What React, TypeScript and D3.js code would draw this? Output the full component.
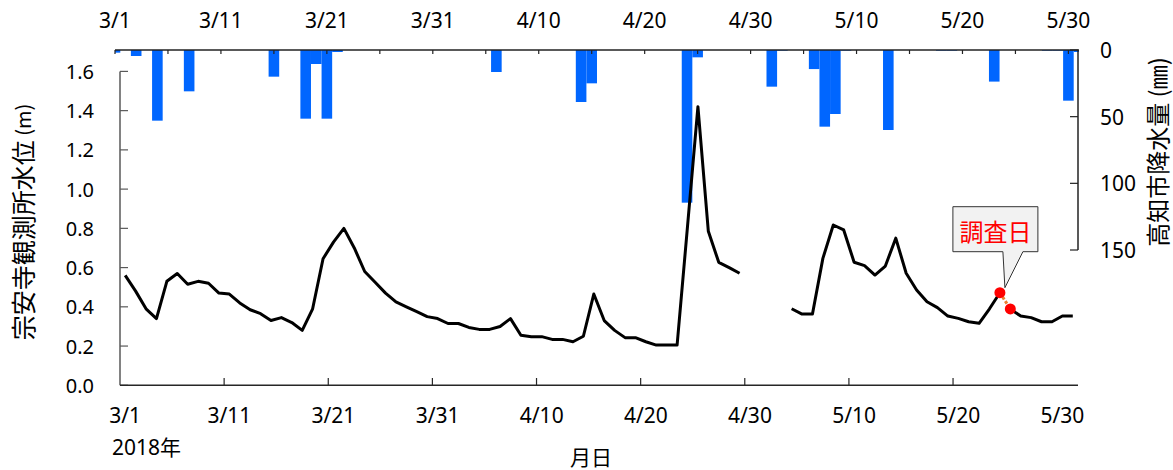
import React from "react";
import * as d3 from "d3";

// ---- data (3/1 .. 5/31, 2018) ----
const startDate = new Date(2018, 2, 1);
const dayCount = 92;
const tickLabels = ["3/1", "3/11", "3/21", "3/31", "4/10", "4/20", "4/30", "5/10", "5/20", "5/30"];
const levelTicks = [0, 0.2, 0.4, 0.6, 0.8, 1.0, 1.2, 1.4, 1.6];
const rainTicks = [0, 50, 100, 150];

// 宗安寺観測所水位 (m), daily; null = missing
const waterLevel: (number | null)[] = [
  0.56, 0.48, 0.39, 0.34, 0.53, 0.57, 0.515, 0.53, 0.52, 0.47,
  0.465, 0.42, 0.385, 0.365, 0.33, 0.345, 0.32, 0.28, 0.39, 0.645,
  0.73, 0.8, 0.7, 0.58, 0.525, 0.47, 0.425, 0.4, 0.375, 0.35,
  0.34, 0.315, 0.315, 0.295, 0.285, 0.285, 0.3, 0.34, 0.255, 0.248,
  0.248, 0.234, 0.234, 0.222, 0.25, 0.465, 0.33, 0.28, 0.243, 0.243,
  0.222, 0.205, 0.205, 0.205, 0.81, 1.42, 0.785, 0.627, 0.6, 0.571,
  null, null, null, null, 0.39, 0.363, 0.363, 0.647, 0.817, 0.792,
  0.627, 0.61, 0.562, 0.608, 0.75, 0.571, 0.486, 0.426, 0.396, 0.353,
  0.341, 0.324, 0.316, 0.39, 0.472, 0.389, 0.353, 0.345, 0.324, 0.324,
  0.353, 0.353,
];

// 高知市降水量 (mm), daily
const rainfall: number[] = [
  2, 0, 4.5, 0, 53, 0, 0, 31, 0, 0,
  0, 0, 0, 0, 0, 20, 0, 0, 51.5, 10.5,
  51.5, 1.5, 0, 0, 0, 0, 0, 0, 0, 0,
  0, 0, 0, 0, 0, 0, 16.5, 0, 0, 0,
  0, 0, 0, 0, 39, 25, 0, 0, 0, 0,
  0, 0, 0, 0, 114.5, 5.5, 0, 0, 0, 0,
  0, 0, 27.5, 0.5, 0, 0, 14.3, 57.5, 48, 0.5,
  0, 0, 0, 60, 0, 0, 0, 0, 0.5, 0.5,
  0, 0, 0, 23.7, 0, 0, 0, 0, 0.5, 0.5,
  38, 1.5,
];

// survey days (調査日): 5/24, 5/25
const surveyDays = ["5/24", "5/25"];

const fmt = (d: Date) => `${d.getMonth() + 1}/${d.getDate()}`;

export default function App() {
  const W = 1173, H = 470;
  const days = d3.range(dayCount).map((i) => d3.timeDay.offset(startDate, i));
  const labels = days.map(fmt);

  const font = "'Noto Sans', 'Noto Sans CJK JP', sans-serif";
  const jfont = "'Noto Sans CJK JP', 'Noto Sans', sans-serif";

  // bottom (line) axis: category bands
  const xB = d3.scaleBand<string>().domain(labels).range([120, 1078]).padding(0);
  const bw = xB.bandwidth();
  const cx = (l: string) => (xB(l) as number) + bw / 2;
  // top (bar) axis: points on ticks
  const xT = d3.scalePoint<string>().domain(labels).range([115, 1079]);
  const step = xT.step();

  const yL = d3.scaleLinear().domain([0, 1.6]).range([385.3, 71.4]);
  const yR = d3.scaleLinear().domain([0, 150]).range([50, 250]);

  const pts = labels.map((l, i) => ({ l, i, v: waterLevel[i] }));
  const s1 = surveyDays.map((s) => labels.indexOf(s));
  const line = d3
    .line<{ l: string; i: number; v: number | null }>()
    .defined((d) => d.v != null)
    .x((d) => cx(d.l))
    .y((d) => yL(d.v as number));

  const seg1 = pts.slice(0, s1[0] + 1);
  const seg2 = pts.slice(s1[1]);
  const segS = pts.slice(s1[0], s1[1] + 1);

  // callout anchored on first survey point
  const ax = cx(labels[s1[0]]) + 5;
  const ay = yL(waterLevel[s1[0]] as number) - 5;
  const bL = ax - 52, bR = ax + 33, bT = ay - 81, bB = ay - 36;
  const callout = `M${bL},${bT}H${bR}V${bB}H${ax + 18}L${ax},${ay}L${ax - 2},${bB}H${bL}Z`;

  const tickEvery10 = labels.filter((_, i) => i % 10 === 0);
  const topTicks = labels.filter((_, i) => i % 5 === 0);
  const bottomTickX = d3.range(0, dayCount + 1, 10).map((i) => 120 + i * bw);

  return (
    <svg width={W} height={H} style={{ position: "absolute", left: 0, top: 0, background: "#fff" }}>
      <defs>
        <clipPath id="barclip">
          <rect x={115} y={40} width={1079 - 115} height={220} />
        </clipPath>
      </defs>

      {/* bars */}
      <g clipPath="url(#barclip)">
        {labels.map((l, i) =>
          rainfall[i] > 0 ? (
            <rect
              key={l}
              x={(xT(l) as number) - step / 2}
              y={yR(0)}
              width={step}
              height={yR(rainfall[i]) - yR(0)}
              fill="#0066ff"
            />
          ) : null
        )}
      </g>

      {/* top axis */}
      <line x1={115} x2={1079} y1={50} y2={50} stroke="#222" strokeWidth={1.5} />
      {topTicks.map((l) => (
        <line key={l} x1={xT(l)} x2={xT(l)} y1={50} y2={54} stroke="#222" strokeWidth={1.2} />
      ))}
      {tickLabels.map((l) => (
        <text key={l} x={xT(l)} y={20} fontSize={21} fontFamily={font} textAnchor="middle" dominantBaseline="central" fill="#000">
          {l}
        </text>
      ))}

      {/* right axis */}
      <line x1={1078} x2={1078} y1={yR(0)} y2={yR(150)} stroke="#222" strokeWidth={1.5} />
      {rainTicks.map((t) => (
        <g key={t}>
          <line x1={1070} x2={1078} y1={yR(t)} y2={yR(t)} stroke="#222" strokeWidth={1.2} />
          <text x={1100} y={yR(t)} fontSize={21} fontFamily={font} dominantBaseline="central" fill="#000">
            {t}
          </text>
        </g>
      ))}
      <text
        transform={`translate(1156,152) rotate(-90)`}
        fontSize={24}
        fontFamily={jfont}
        textAnchor="middle"
        dominantBaseline="central"
        fill="#000"
      >
        高知市降水量 (㎜)
      </text>

      {/* left axis */}
      <line x1={120} x2={120} y1={yL(1.6)} y2={yL(0)} stroke="#595959" strokeWidth={1.5} />
      {levelTicks.map((t) => (
        <g key={t}>
          <line x1={120} x2={128} y1={yL(t)} y2={yL(t)} stroke="#595959" strokeWidth={1.2} />
          <text x={94} y={yL(t)} fontSize={20} fontFamily={font} textAnchor="end" dominantBaseline="central" fill="#000">
            {t.toFixed(1)}
          </text>
        </g>
      ))}
      <text
        transform={`translate(22,222) rotate(-90)`}
        fontSize={25}
        fontFamily={jfont}
        textAnchor="middle"
        dominantBaseline="central"
        fill="#000"
      >
        宗安寺観測所水位<tspan fontSize={20}> (m)</tspan>
      </text>

      {/* bottom axis */}
      <line x1={120} x2={1078} y1={385.3} y2={385.3} stroke="#262626" strokeWidth={1.5} />
      {bottomTickX.slice(1, -1).map((x, i) => (
        <line key={i} x1={x} x2={x} y1={385.3} y2={378} stroke="#262626" strokeWidth={1.2} />
      ))}
      {tickEvery10.map((l) => (
        <text key={l} x={cx(l)} y={415} fontSize={21} fontFamily={font} textAnchor="middle" dominantBaseline="central" fill="#000">
          {l}
        </text>
      ))}
      <text x={112} y={447} fontSize={21} fontFamily={font} dominantBaseline="central" fill="#000">
        2018年
      </text>
      <text x={591} y={456} fontSize={21} fontFamily={jfont} textAnchor="middle" dominantBaseline="central" fill="#000">
        月日
      </text>

      {/* water level line */}
      <path d={line(seg1) || ""} fill="none" stroke="#000" strokeWidth={3} strokeLinejoin="round" />
      <path d={line(seg2) || ""} fill="none" stroke="#000" strokeWidth={3} strokeLinejoin="round" />
      <path d={line(segS) || ""} fill="none" stroke="#ED7D31" strokeWidth={3} strokeDasharray="3,2" />
      {s1.map((i) => (
        <circle key={i} cx={cx(labels[i])} cy={yL(waterLevel[i] as number)} r={5.5} fill="#ff0000" />
      ))}

      {/* callout */}
      <path d={callout} fill="#f2f2f2" stroke="#333" strokeWidth={1} />
      <text x={(bL + bR) / 2} y={(bT + bB) / 2 + 1} fontSize={24} fontFamily={jfont} textAnchor="middle" dominantBaseline="central" fill="#ff0000">
        調査日
      </text>
    </svg>
  );
}
